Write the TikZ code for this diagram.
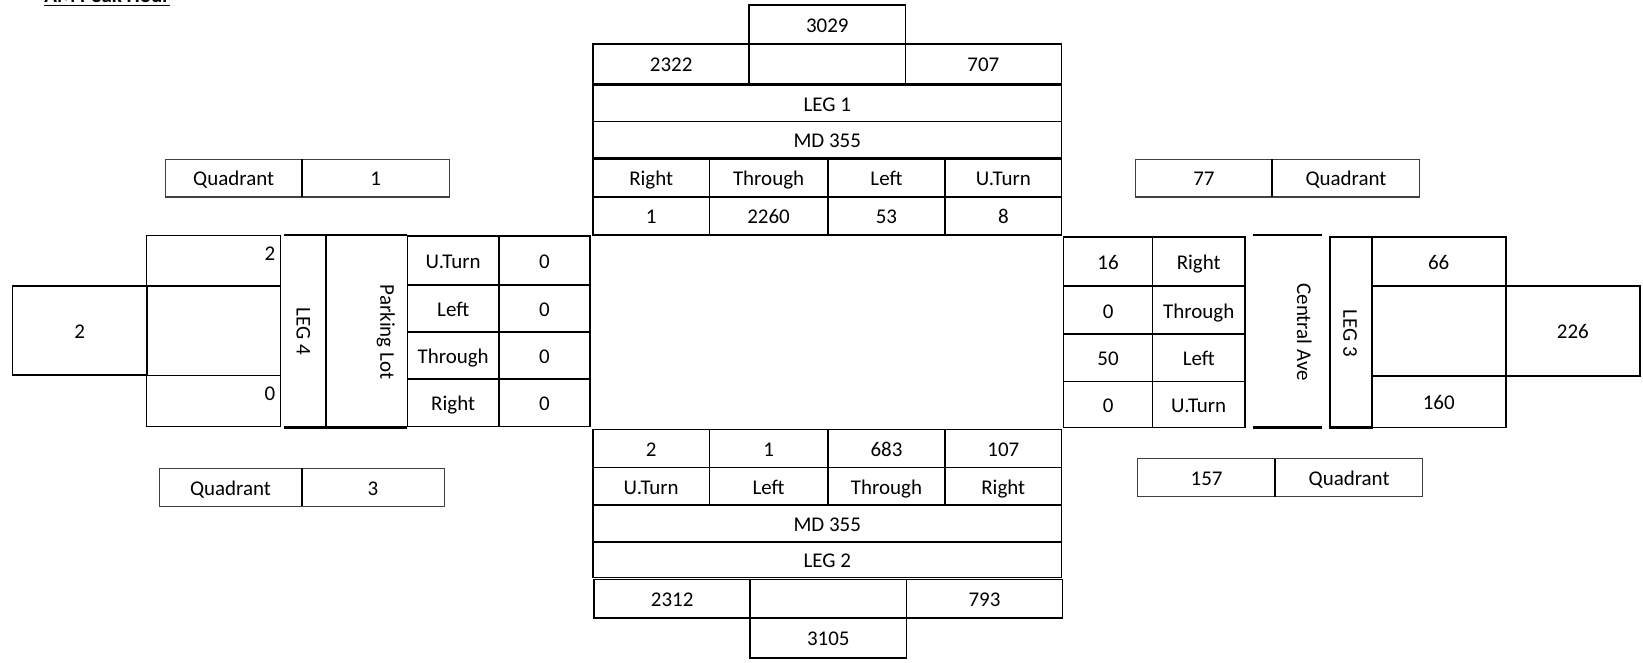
\documentclass[tikz,border=0pt]{standalone}
\usepackage{fontspec}
\setmainfont{Carlito}
\begin{document}
\begin{tikzpicture}[x=0.5pt,y=-0.5pt,
  cellbox/.style={draw=black,line width=0.8pt,inner sep=0pt,outer sep=0pt,text height=9.5pt,text depth=2pt,font=\fontsize{10}{12}\selectfont},
  thincell/.style={cellbox,draw=black!75,line width=0.5pt},
  openbox/.style={cellbox,draw=none},
  vtext/.style={inner sep=0pt,text height=7pt,text depth=2pt,font=\fontsize{10}{12}\selectfont,rotate=-90},
  cornertext/.style={inner sep=0pt,anchor=east,text height=7pt,text depth=2pt,font=\fontsize{10}{12}\selectfont},
  edge/.style={line width=1pt},
  divider/.style={line width=1pt}]
\useasboundingbox (0,0) rectangle (1568,632);
\newcommand\cell[7][]{\pgfmathsetmacro\cw{(#5-#3)*0.5}\pgfmathsetmacro\ch{(#6-#4)*0.5}%
  \node[cellbox,minimum width=\cw pt,minimum height=\ch pt,#1] (#2) at ({(#3+#5)/2},{(#4+#6)/2}) {#7};}

% title
\node[inner sep=0pt,anchor=base west,font=\fontsize{10}{12}\selectfont\bfseries] (title) at (42,2) {\underline{AM Peak Hour}};

% ---------- top (LEG 1) ----------
\cell{t3029}{715}{5}{864}{42}{3029}
\cell{t2322}{566}{42}{715}{80}{2322}
\cell{tmid}{715}{42}{864}{80}{}
\cell{t707}{864}{42}{1013}{80}{707}
\cell{tleg}{566}{81}{1013}{116}{LEG 1}
\cell{tmd}{566}{116}{1013}{151}{MD 355}
\cell{tR}{566}{152}{677}{188}{Right}
\cell{tT}{677}{152}{790}{188}{Through}
\cell{tL}{790}{152}{902}{188}{Left}
\cell{tU}{902}{152}{1013}{188}{U.Turn}
\cell{tRv}{566}{188}{677}{224}{1}
\cell{tTv}{677}{188}{790}{224}{2260}
\cell{tLv}{790}{188}{902}{224}{53}
\cell{tUv}{902}{188}{1013}{224}{8}

% ---------- quadrants ----------
\cell[thincell]{q1a}{158}{152}{288}{188}{Quadrant}
\cell[thincell]{q1b}{288}{152}{429}{188}{1}
\draw[divider] (q1a.north east) -- (q1a.south east);
\cell[thincell]{q2a}{1084}{152}{1214}{188}{77}
\cell[thincell]{q2b}{1214}{152}{1355}{188}{Quadrant}
\draw[divider] (q2a.north east) -- (q2a.south east);
\cell[thincell]{q3a}{152}{447}{288}{483}{Quadrant}
\cell[thincell]{q3b}{288}{447}{424}{483}{3}
\draw[divider] (q3a.north east) -- (q3a.south east);
\cell[thincell]{q4a}{1086}{438}{1217}{474}{157}
\cell[thincell]{q4b}{1217}{438}{1358}{474}{Quadrant}
\draw[divider] (q4a.north east) -- (q4a.south east);

% ---------- left (LEG 4) ----------
\cell{lbig}{12}{273}{140}{358}{2}
\cell[line width=0.6pt]{lup}{140}{225}{268}{273}{}
\cell[line width=0.6pt]{lmid}{140}{273}{268}{358}{}
\cell[line width=0.6pt]{llow}{140}{358}{268}{407}{}
\node[cornertext] (lupv) at ([xshift=-2.5pt,yshift=2.5pt]lup.east) {2};
\node[cornertext] (llowv) at ([xshift=-2.5pt,yshift=2.5pt]llow.east) {0};
\cell[openbox]{lleg}{271}{224}{311}{408}{}
\draw[edge] (lleg.north west) -- (lleg.north east);
\draw[edge] (lleg.south west) -- (lleg.south east);
\draw[edge] (lleg.north east) -- (lleg.south east);
\node[vtext] (llegt) at (288,316) {LEG 4};
\cell[openbox]{lpark}{311}{224}{388}{408}{}
\draw[edge] (lpark.north west) -- (lpark.north east);
\draw[edge] (lpark.south west) -- (lpark.south east);
\node[vtext] (lparkt) at (368,317) {Parking Lot};
\cell{lU}{389}{225}{476}{272}{U.Turn}
\cell{lUv}{476}{225}{563}{272}{0}
\cell{lL}{389}{272}{476}{317}{Left}
\cell{lLv}{476}{272}{563}{317}{0}
\cell{lT}{389}{317}{476}{362}{Through}
\cell{lTv}{476}{317}{563}{362}{0}
\cell{lR}{389}{362}{476}{407}{Right}
\cell{lRv}{476}{362}{563}{407}{0}

% ---------- right (LEG 3) ----------
\cell{rRv}{1015}{226}{1100}{273}{16}
\cell{rR}{1100}{226}{1188}{273}{Right}
\cell{rTv}{1015}{273}{1100}{319}{0}
\cell{rT}{1100}{273}{1188}{319}{Through}
\cell{rLv}{1015}{319}{1100}{364}{50}
\cell{rL}{1100}{319}{1188}{364}{Left}
\cell{rUv}{1015}{364}{1100}{408}{0}
\cell{rU}{1100}{364}{1188}{408}{U.Turn}
\cell[openbox]{rcen}{1196}{224}{1262}{408}{}
\draw[edge] (rcen.north west) -- (rcen.north east);
\draw[edge] (rcen.south west) -- (rcen.south east);
\node[vtext] (rcent) at (1243,317) {Central Ave};
\cell[line width=1pt]{rleg}{1269}{226}{1309}{408}{}
\node[vtext] (rlegt) at (1287,318) {LEG 3};
\cell{r66}{1309}{226}{1437}{273}{66}
\cell{rmid}{1309}{273}{1437}{359}{}
\cell{r160}{1309}{359}{1437}{408}{160}
\cell{r226}{1437}{273}{1565}{359}{226}

% ---------- bottom (LEG 2) ----------
\cell{bUv}{566}{410}{677}{446}{2}
\cell{bLv}{677}{410}{790}{446}{1}
\cell{bTv}{790}{410}{902}{446}{683}
\cell{bRv}{902}{410}{1013}{446}{107}
\cell{bU}{566}{446}{677}{482}{U.Turn}
\cell{bL}{677}{446}{790}{482}{Left}
\cell{bT}{790}{446}{902}{482}{Through}
\cell{bR}{902}{446}{1013}{482}{Right}
\cell{bmd}{566}{482}{1013}{517}{MD 355}
\cell{bleg}{566}{517}{1013}{551}{LEG 2}
\cell{b2312}{567}{553}{716}{590}{2312}
\cell{bmid}{716}{553}{865}{590}{}
\cell{b793}{865}{553}{1014}{590}{793}
\cell{b3105}{716}{590}{865}{628}{3105}
\end{tikzpicture}
\end{document}
